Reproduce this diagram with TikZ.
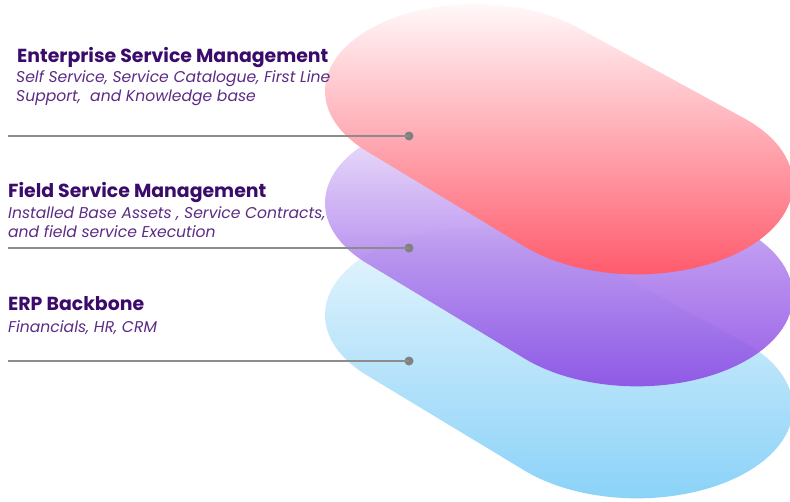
\documentclass[tikz,border=0pt]{standalone}
\usepackage{fontspec}
\setmainfont{Poppins}
\definecolor{ttl}{HTML}{3B0B6B}
\definecolor{sub}{HTML}{5B2B86}
\definecolor{gline}{HTML}{8C8C8C}
\definecolor{gdot}{HTML}{808080}
\definecolor{redA}{HTML}{FFF8F9}
\definecolor{redB}{HTML}{FF5A6B}
\definecolor{purA}{HTML}{EEE3FB}
\definecolor{purM}{HTML}{B48AEE}
\definecolor{purB}{HTML}{8A46E3}
\definecolor{bluA}{HTML}{E8F6FD}
\definecolor{bluB}{HTML}{8AD2F8}
% one layer: #1 = vertical offset (px), #2 = shading options
% outline = hull of two circles, squashed vertically (yscale=0.58)
\newcommand\layer[2]{%
  \begin{scope}
    \clip[yshift={-#1pt}, yscale=0.58]
      ({475+150*cos(46.78)},{-156.9+150*sin(46.78)}) --
      ({637+155.9*cos(46.78)},{-317.1+155.9*sin(46.78)})
      arc[start angle=46.78, end angle=-136.18, radius=155.9] --
      ({475+150*cos(-136.18)},{-156.9+150*sin(-136.18)})
      arc[start angle=223.82, end angle=46.78, radius=150] -- cycle;
    \shade[#2] (300,{-4-#1}) rectangle (800,{-276-#1});
  \end{scope}}
\begin{document}
\begin{tikzpicture}[x=1pt,y=1pt,
  title/.style={anchor=base west, inner sep=0pt, text=ttl, font=\fontsize{18.9}{22}\selectfont\bfseries},
  desc/.style={anchor=base west, inner sep=0pt, text=sub, font=\fontsize{15.6}{20}\selectfont\itshape},
  conn/.style={draw=gline, line width=1.1pt},
  dotn/.style={circle, fill=gdot, inner sep=0pt, minimum size=9pt}]
\useasboundingbox (0,-501) rectangle (790,0);
\clip (0,-501) rectangle (790,0);
% layers
\layer{224}{top color=bluA, bottom color=bluB}
\layer{112}{top color=purA, bottom color=purB, middle color=purM, fill opacity=0.88}
\layer{0}{top color=redA, bottom color=redB}
% texts
\node[title] (t1) at (17,-62) {Enterprise Service Management};
\node[desc] (s1a) at (16,-82) {Self Service, Service Catalogue, First Line};
\node[desc] (s1b) at (16,-101) {Support,\ \ and Knowledge base};
\node[title] (t2) at (8,-197) {Field Service Management};
\node[desc] (s2a) at (8,-218) {Installed Base Assets , Service Contracts,};
\node[desc] (s2b) at (8,-237) {and field service Execution};
\node[title] (t3) at (8,-310) {ERP Backbone};
\node[desc] (s3a) at (8,-332) {Financials, HR, CRM};
% connectors
\coordinate (l1) at (8,-136);
\coordinate (l2) at (8,-248);
\coordinate (l3) at (8,-361);
\node[dotn] (d1) at (409,-136) {};
\node[dotn] (d2) at (409,-248) {};
\node[dotn] (d3) at (409,-361) {};
\draw[conn] (l1) -- (d1.center);
\draw[conn] (l2) -- (d2.center);
\draw[conn] (l3) -- (d3.center);
\end{tikzpicture}
\end{document}
